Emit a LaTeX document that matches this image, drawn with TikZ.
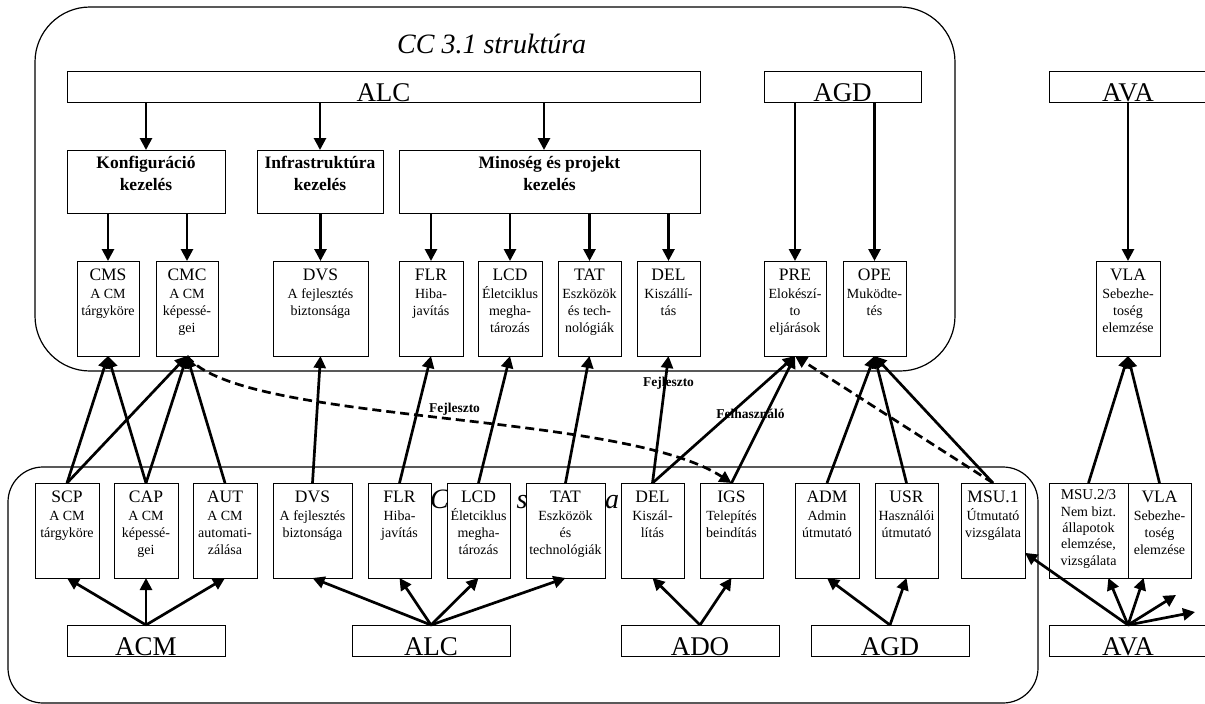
\documentclass[tikz,border=0pt]{standalone}
\usepackage{fontspec}
\setmainfont{Liberation Serif}
\usetikzlibrary{arrows.meta}

% code name on the first line of a box
\newcommand\code[1]{{\fontsize{17.5}{17}\selectfont #1}}

\begin{document}
\begin{tikzpicture}[x=1pt,y=-1pt,
  groupframe/.style={line width=1.2pt, rounded corners=#1},
  basebox/.style={draw, line width=1pt, fill=white, anchor=north west,
    inner sep=0pt, outer sep=0pt},
  box/.style={basebox, minimum height=95pt},
  bar/.style={basebox, minimum height=31pt},
  cat/.style={basebox, minimum height=63pt},
  txt/.style={anchor=north, inner sep=0pt, yshift=-7.4pt, align=center,
    font=\fontsize{14}{17}\selectfont},
  cattxt/.style={anchor=north, inner sep=0pt, yshift=-6pt, align=center,
    font=\bfseries\fontsize{17.5}{22}\selectfont},
  bartxt/.style={anchor=base, inner sep=0pt, yshift=1pt,
    font=\fontsize{27}{27}\selectfont},
  arr/.style={line width=2.7pt, -{Triangle[length=12pt,width=12pt]}},
  dasharr/.style={arr, dash pattern=on 9pt off 5pt},
  lbl/.style={anchor=base, inner sep=0pt, font=\bfseries\fontsize{13.5}{14}\selectfont},
  ttl/.style={anchor=base west, inner sep=0pt, font=\itshape\fontsize{28}{28}\selectfont}
]
\useasboundingbox (0,0) rectangle (1205,704);

% the two structure frames
\draw[groupframe=55pt] (35,7) rectangle (955,371);
\draw[groupframe=35pt] (8,467) rectangle (1038,703);
\node[ttl] (ttlTop) at (397,53) {CC 3.1 struktúra};
\node[ttl] (ttlBot) at (430,508) {CC 2.1 struktúra};

% role labels on the links
\node[lbl] (lbA) at (454.5,412) {Fejleszto};
\node[lbl] (lbB) at (668.5,386) {Fejleszto};
\node[lbl] (lbC) at (750.5,418) {Felhasználó};

% ---------- upper structure ----------
\node[bar, minimum width=633pt, label={[bartxt]south:ALC}] (alcT) at (67,71) {};
\node[bar, minimum width=157pt, label={[bartxt]south:AGD}] (agdT) at (764,71) {};
\node[bar, minimum width=158pt, label={[bartxt]south:AVA}] (avaT) at (1049,71) {};

\node[cat, minimum width=158pt, label={[cattxt]north:{Konfiguráció\\kezelés}}] (konf) at (67,150) {};
\node[cat, minimum width=126pt, label={[cattxt]north:{Infrastruktúra\\kezelés}}] (infra) at (257,150) {};
\node[cat, minimum width=301pt, label={[cattxt]north:{Minoség és projekt\\kezelés}}] (minos) at (399,150) {};

\node[box, minimum width=62pt, label={[txt]north:{\code{CMS}\\[1pt]A CM\\tárgyköre}}] (cms) at (77,261) {};
\node[box, minimum width=62pt, label={[txt]north:{\code{CMC}\\[1pt]A CM\\képessé-\\gei}}] (cmc) at (156,261) {};
\node[box, minimum width=95pt, label={[txt]north:{\code{DVS}\\[1pt]A fejlesztés\\biztonsága}}] (dvsU) at (273,261) {};
\node[box, minimum width=64pt, label={[txt]north:{\code{FLR}\\[1pt]Hiba-\\javítás}}] (flrU) at (399,261) {};
\node[box, minimum width=64pt, label={[txt]north:{\code{LCD}\\[1pt]Életciklus\\megha-\\tározás}}] (lcdU) at (478,261) {};
\node[box, minimum width=63pt, label={[txt]north:{\code{TAT}\\[1pt]Eszközök\\és tech-\\nológiák}}] (tatU) at (558,261) {};
\node[box, minimum width=63pt, label={[txt]north:{\code{DEL}\\[1pt]Kiszállí-\\tás}}] (delU) at (637,261) {};
\node[box, minimum width=62pt, label={[txt]north:{\code{PRE}\\[1pt]Elokészí-\\to\\eljárások}}] (pre) at (764,261) {};
\node[box, minimum width=63pt, label={[txt]north:{\code{OPE}\\[1pt]Muködte-\\tés}}] (ope) at (843,261) {};
\node[box, minimum width=64pt, label={[txt]north:{\code{VLA}\\[1pt]Sebezhe-\\toség\\elemzése}}] (vlaU) at (1096,261) {};

% ---------- lower structure ----------
\node[box, minimum width=64pt, label={[txt]north:{\code{SCP}\\[1pt]A CM\\tárgyköre}}] (scp) at (35,483) {};
\node[box, minimum width=64pt, label={[txt]north:{\code{CAP}\\[1pt]A CM\\képessé-\\gei}}] (cap) at (114,483) {};
\node[box, minimum width=64pt, label={[txt]north:{\code{AUT}\\[1pt]A CM\\automati-\\zálása}}] (aut) at (193,483) {};
\node[box, minimum width=79pt, label={[txt]north:{\code{DVS}\\[1pt]A fejlesztés\\biztonsága}}] (dvsL) at (273,483) {};
\node[box, minimum width=63pt, label={[txt]north:{\code{FLR}\\[1pt]Hiba-\\javítás}}] (flrL) at (368,483) {};
\node[box, minimum width=63pt, label={[txt]north:{\code{LCD}\\[1pt]Életciklus\\megha-\\tározás}}] (lcdL) at (447,483) {};
\node[box, minimum width=79pt, label={[txt]north:{\code{TAT}\\[1pt]Eszközök\\és\\technológiák}}] (tatL) at (526,483) {};
\node[box, minimum width=63pt, label={[txt]north:{\code{DEL}\\[1pt]Kiszál-\\lítás}}] (delL) at (621,483) {};
\node[box, minimum width=63pt, label={[txt]north:{\code{IGS}\\[1pt]Telepítés\\beindítás}}] (igs) at (700,483) {};
\node[box, minimum width=64pt, label={[txt]north:{\code{ADM}\\[1pt]Admin\\útmutató}}] (adm) at (795,483) {};
\node[box, minimum width=63pt, label={[txt]north:{\code{USR}\\[1pt]Használói\\útmutató}}] (usr) at (875,483) {};
\node[box, minimum width=64pt, label={[txt]north:{\code{MSU.1}\\[1pt]Útmutató\\vizsgálata}}] (msu1) at (961,483) {};
\node[box, minimum width=79pt, label={[txt, yshift=0.6pt, font=\fontsize{14}{16.3}\selectfont]north:{{\fontsize{15}{16}\selectfont MSU.2/3}\\Nem bizt.\\állapotok\\elemzése,\\vizsgálata}}] (msu23) at (1049,483) {};
\node[box, minimum width=63pt, label={[txt]north:{\code{VLA}\\[1pt]Sebezhe-\\toség\\elemzése}}] (vlaL) at (1128,483) {};

\node[bar, minimum width=158pt, label={[bartxt]south:ACM}] (acm) at (67,625) {};
\node[bar, minimum width=158pt, label={[bartxt]south:ALC}] (alcB) at (352,625) {};
\node[bar, minimum width=158pt, label={[bartxt]south:ADO}] (ado) at (621,625) {};
\node[bar, minimum width=158pt, label={[bartxt]south:AGD}] (agdB) at (811,625) {};
\node[bar, minimum width=158pt, label={[bartxt]south:AVA}] (avaB) at (1049,625) {};

% ---------- connectors inside the upper structure ----------
\coordinate (mq) at (544,150);
\draw[arr] (alcT.south -| konf.north) -- (konf.north);
\draw[arr] (alcT.south -| infra.north) -- (infra.north);
\draw[arr] (alcT.south -| mq) -- (mq);
\draw[arr] (konf.south -| cms.north) -- (cms.north);
\draw[arr] (konf.south -| cmc.north) -- (cmc.north);
\draw[arr] (infra.south -| dvsU.north) -- (dvsU.north);
\foreach \b in {flrU,lcdU,tatU,delU}
  \draw[arr] (minos.south -| \b.north) -- (\b.north);
\draw[arr] (agdT.south -| pre.north) -- (pre.north);
\draw[arr] (agdT.south -| ope.north) -- (ope.north);
\draw[arr] (avaT.south -| vlaU.north) -- (vlaU.north);

% ---------- mapping from the lower to the upper structure ----------
\draw[arr] (scp.north) -- (cms.south);
\draw[arr] (cap.north) -- (cms.south);
\draw[arr] (scp.north) -- (cmc.south);
\draw[arr] (cap.north) -- (cmc.south);
\draw[arr] (aut.north) -- (cmc.south);
\draw[arr] (dvsL.north) -- (dvsU.south);
\draw[arr] (flrL.north) -- (flrU.south);
\draw[arr] (lcdL.north) -- (lcdU.south);
\draw[arr] (tatL.north) -- (tatU.south);
\draw[arr] (delL.north) -- (delU.south);
\draw[arr] (delL.north) -- (pre.south);
\draw[arr] (igs.north) -- (pre.south);
\draw[arr] (adm.north) -- (ope.south);
\draw[arr] (usr.north) -- (ope.south);
\draw[arr] (msu1.north) -- (ope.south);
\draw[arr] (msu23.north) -- (vlaU.south);
\draw[arr] (vlaL.north) -- (vlaU.south);
\draw[dasharr] (cmc.south) .. controls (240,425) and (620,410) .. (igs.north);
\draw[dasharr] (msu1.north) -- (pre.south);

% ---------- connectors inside the lower structure ----------
\foreach \b in {scp,cap,aut} \draw[arr] (acm.north) -- (\b.south);
\foreach \b in {dvsL,flrL,lcdL,tatL} \draw[arr] (alcB.north) -- (\b.south);
\foreach \b in {delL,igs} \draw[arr] (ado.north) -- (\b.south);
\foreach \b in {adm,usr} \draw[arr] (agdB.north) -- (\b.south);
\coordinate (out1) at (1176,595);
\coordinate (out2) at (1195,612);
\foreach \b in {msu1,msu23,vlaL,out1,out2} \draw[arr] (avaB.north) -- (\b);
\end{tikzpicture}
\end{document}
